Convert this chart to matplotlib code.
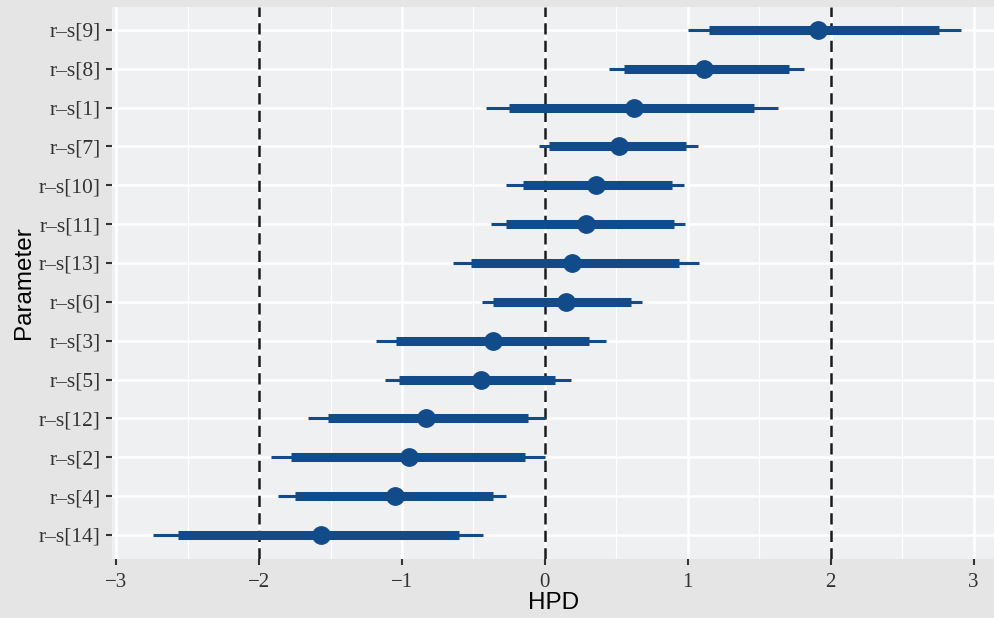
import numpy as np
import matplotlib
matplotlib.use('Agg')
import matplotlib.pyplot as plt

# Parameters from top to bottom, with HPD intervals
params = ['r–s[9]', 'r–s[8]', 'r–s[1]', 'r–s[7]', 'r–s[10]', 'r–s[11]', 'r–s[13]',
          'r–s[6]', 'r–s[3]', 'r–s[5]', 'r–s[12]', 'r–s[2]', 'r–s[4]', 'r–s[14]']
outer_lo = [1.00, 0.45, -0.41, -0.04, -0.27, -0.38, -0.64, -0.44, -1.18, -1.12, -1.66, -1.92, -1.87, -2.74]
inner_lo = [1.15, 0.55, -0.25, 0.03, -0.15, -0.27, -0.52, -0.36, -1.04, -1.02, -1.52, -1.78, -1.75, -2.57]
center = [1.91, 1.11, 0.62, 0.52, 0.36, 0.29, 0.19, 0.15, -0.36, -0.45, -0.83, -0.95, -1.05, -1.57]
inner_hi = [2.76, 1.71, 1.46, 0.99, 0.89, 0.90, 0.94, 0.60, 0.31, 0.07, -0.12, -0.14, -0.36, -0.60]
outer_hi = [2.91, 1.81, 1.63, 1.07, 0.97, 0.98, 1.08, 0.68, 0.43, 0.18, 0.00, 0.00, -0.27, -0.43]
ref_lines = [-2, 0, 2]
xticks = [-3, -2, -1, 0, 1, 2, 3]
xtick_labels = ['−3', '−2', '−1', '0', '1', '2', '3']

blue = '#124b8a'
n = len(params)
ypos = np.arange(n, 0, -1)

fig = plt.figure(figsize=(9.95, 6.18), dpi=100)
fig.patch.set_facecolor('#e5e5e5')
ax = fig.add_axes([112 / 995, 1 - 559 / 618, 1 - 112 / 995, (559 - 7) / 618])
ax.set_facecolor('#eff0f2')

ax.set_xlim(-3.03, 3.15)
ax.set_ylim(0.38, 14.59)

# grid
ax.set_xticks(xticks)
ax.set_xticks(np.arange(-3, 3.5, 0.5), minor=True)
ax.set_yticks(ypos)
ax.grid(True, which='major', color='white', linewidth=1.8)
ax.grid(True, which='minor', axis='x', color='white', linewidth=0.9)
ax.set_axisbelow(True)
for s in ax.spines.values():
    s.set_visible(False)

# reference lines
for xv in ref_lines:
    ax.axvline(xv, color='#1a1a1a', linewidth=1.8, dashes=(4.5, 2.5), zorder=2)

# intervals
ax.hlines(ypos, outer_lo, outer_hi, color=blue, linewidth=2.2, zorder=3)
ax.hlines(ypos, inner_lo, inner_hi, color=blue, linewidth=6.5, zorder=4)
ax.plot(center, ypos, 'o', color=blue, markersize=12.5, zorder=5)

ax.set_xticklabels(xtick_labels, family='Liberation Serif', fontsize=15, color='#333333')
ax.set_yticklabels(params, family='Liberation Serif', fontsize=15.5, color='#333333')
ax.tick_params(axis='both', which='major', length=4, width=1.5, color='#333333', pad=4)
ax.tick_params(axis='x', which='major', pad=6)
ax.tick_params(axis='both', which='minor', length=0)

ax.set_xlabel('HPD', family='Liberation Sans', fontsize=17.5, color='black', labelpad=0)
ax.set_ylabel('Parameter', family='Liberation Sans', fontsize=17.5, color='black', labelpad=3)

fig.savefig('out.png', dpi=100, facecolor=fig.get_facecolor())
